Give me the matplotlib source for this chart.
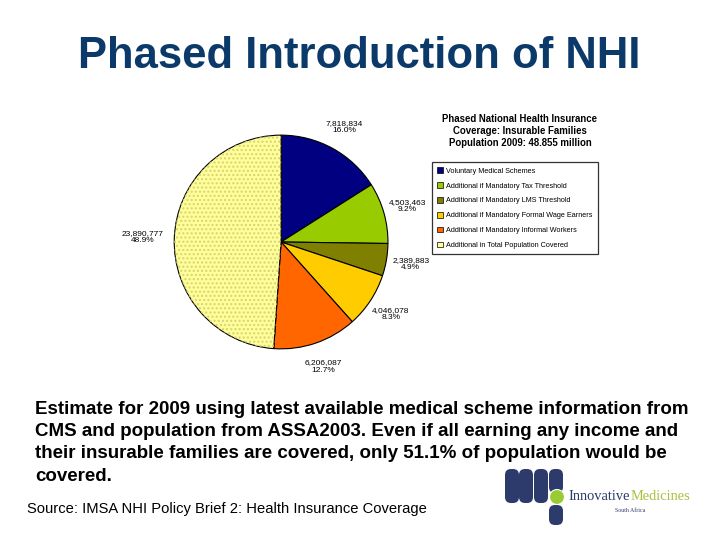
import matplotlib
matplotlib.use("Agg")
import matplotlib.pyplot as plt
from matplotlib.patches import Wedge, FancyBboxPatch, Circle
import numpy as np

plt.rcParams['font.family'] = ['Liberation Sans', 'DejaVu Sans']

categories = ["Voluntary Medical Schemes",
              "Additional if Mandatory Tax Threshold",
              "Additional if Mandatory LMS Threshold",
              "Additional if Mandatory Formal Wage Earners",
              "Additional if Mandatory Informal Workers",
              "Additional in Total Population Covered"]
values = [7818834, 4503463, 2389883, 4046078, 6206087, 23890777]
colors = ["#000080", "#99CC00", "#808000", "#FFCC00", "#FF6600", "#FFFF99"]

fig = plt.figure(figsize=(7.2, 5.4), dpi=100)

# page overlay in pixel coordinates (text + logo)
page = fig.add_axes([0, 0, 1, 1])
page.set_xlim(0, 720)
page.set_ylim(540, 0)
page.axis("off")

page.text(359, 57, "Phased Introduction of NHI", ha="center", va="center",
          fontsize=31.4, fontweight="bold", color="#0B3A6A")

body = ("Estimate for 2009 using latest available medical scheme information from\n"
        "CMS and population from ASSA2003. Even if all earning any income and\n"
        "their insurable families are covered, only 51.1% of population would be\n"
        "covered.")
page.text(35, 401, body, ha="left", va="top", fontsize=13.5, fontweight="bold",
          linespacing=1.4, color="black")
page.text(27, 509, "Source: IMSA NHI Policy Brief 2: Health Insurance Coverage",
          ha="left", va="center", fontsize=10.6, color="black")

page.text(520, 131, "Phased National Health Insurance\nCoverage: Insurable Families\n"
          "Population 2009: 48.855 million", ha="center", va="center",
          fontsize=6.9, fontweight="bold", linespacing=1.2)

# logo
navy = "#2C3A6C"
for x0, y0, y1 in [(505, 469, 503), (519, 469, 503), (534, 469, 503),
                   (549, 469, 493), (549, 505, 525)]:
    page.add_patch(FancyBboxPatch((x0 + 6, y0 + 6), 2, (y1 - y0) - 12,
                                  boxstyle="round,pad=6", fc=navy, ec="none"))
page.add_patch(Circle((557, 497), 7.5, fc="#99CC33", ec="white", lw=0.8))
page.text(568, 497, "Innovative", ha="left", va="center", fontsize=10.4,
          family="Liberation Serif", color=navy)
page.text(631, 497, "Medicines", ha="left", va="center", fontsize=10.4,
          family="Liberation Serif", color="#A8C040")
page.text(630, 510, "South Africa", ha="center", va="center", fontsize=4.2,
          family="Liberation Serif", color=navy)

# pie
ax = fig.add_axes([0.239, 0.35, 0.3028, 0.4037])
wedges, _ = ax.pie(values, colors=colors, startangle=90, counterclock=False,
                   wedgeprops=dict(edgecolor="black", linewidth=0.8))
ax.set_aspect("equal")
ax.set_xlim(-1.02, 1.02)
ax.set_ylim(-1.02, 1.02)

w = wedges[-1]
ax.add_patch(Wedge(w.center, w.r, w.theta1, w.theta2, fc="none",
                   ec="#D8D078", lw=0, hatch="...."))

total = sum(values)
for wd, v in zip(wedges, values):
    mid = np.deg2rad((wd.theta1 + wd.theta2) / 2)
    d = 1.3 if v > 20000000 else 1.23
    ax.text(d * np.cos(mid), d * np.sin(mid),
            f"{v:,}\n{100 * v / total:.1f}%", ha="center", va="center",
            fontsize=6, linespacing=1.1)

handles = [plt.Rectangle((0, 0), 1, 1, fc=c, ec="black", lw=0.5) for c in colors]
leg = fig.legend(handles, categories, loc="upper left",
                 bbox_to_anchor=(432 / 720, 1 - 162 / 540), fontsize=5.2,
                 frameon=True, fancybox=False, edgecolor="black",
                 handlelength=0.8, handleheight=0.8, handletextpad=0.4,
                 labelspacing=1.05, borderpad=0.75, borderaxespad=0)
leg.get_frame().set_linewidth(0.9)

fig.savefig("out.png", dpi=100)
